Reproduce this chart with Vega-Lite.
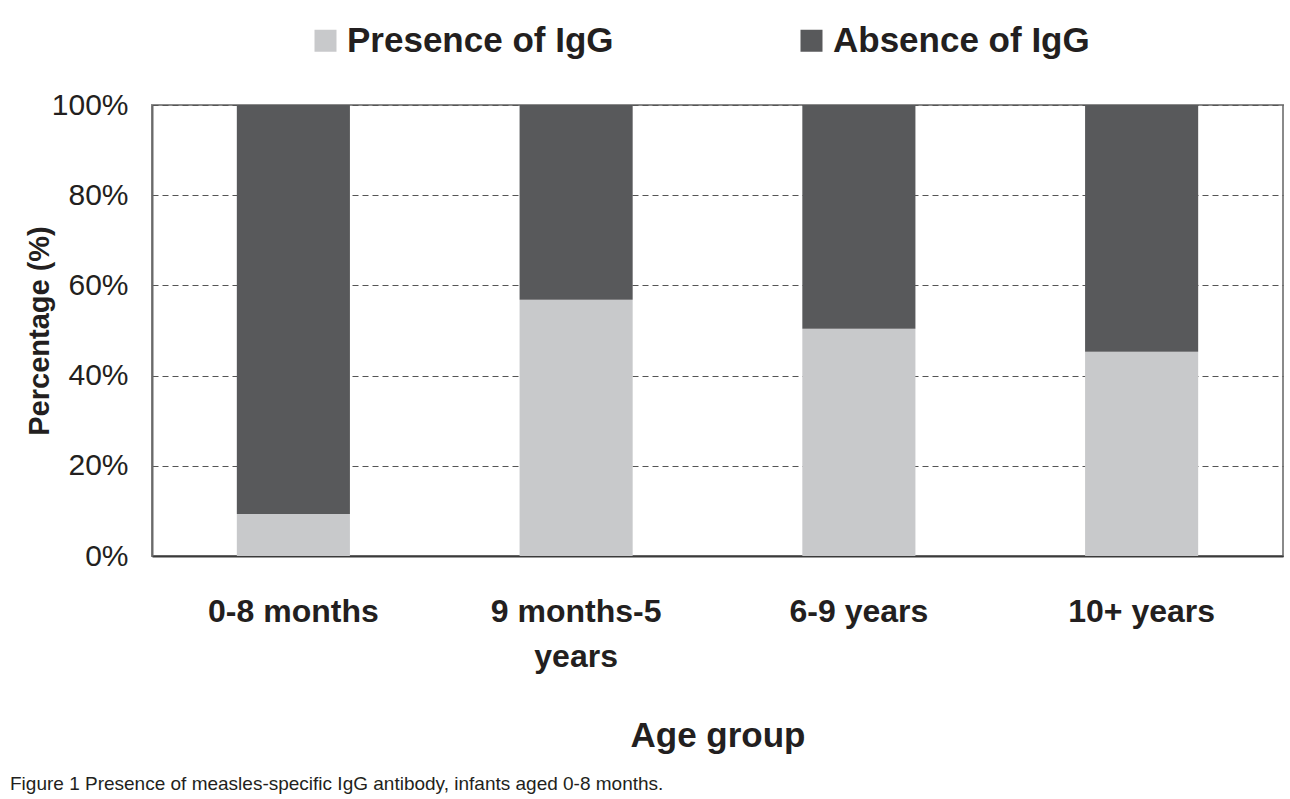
{
  "$schema": "https://vega.github.io/schema/vega-lite/v6.json",
  "autosize": {"type": "none"},
  "width": 1131,
  "height": 451,
  "padding": {"left": 152, "top": 105, "right": 7, "bottom": 243},
  "background": "white",
  "data": {
    "values": [
      {"age": "0-8 months", "group": "Presence of IgG", "pct": 9.3},
      {"age": "0-8 months", "group": "Absence of IgG", "pct": 90.7},
      {"age": "9 months-5 years", "group": "Presence of IgG", "pct": 56.8},
      {"age": "9 months-5 years", "group": "Absence of IgG", "pct": 43.2},
      {"age": "6-9 years", "group": "Presence of IgG", "pct": 50.4},
      {"age": "6-9 years", "group": "Absence of IgG", "pct": 49.6},
      {"age": "10+ years", "group": "Presence of IgG", "pct": 45.3},
      {"age": "10+ years", "group": "Absence of IgG", "pct": 54.7}
    ]
  },
  "title": {
    "text": "Figure 1 Presence of measles-specific IgG antibody, infants aged 0-8 months.",
    "orient": "bottom",
    "anchor": "start",
    "frame": "group",
    "dx": -142,
    "offset": 22,
    "font": "Liberation Sans",
    "fontSize": 19,
    "fontWeight": "normal",
    "color": "#231f20"
  },
  "mark": {"type": "bar"},
  "encoding": {
    "x": {
      "field": "age",
      "type": "nominal",
      "sort": ["0-8 months", "9 months-5 years", "6-9 years", "10+ years"],
      "scale": {"paddingInner": 0.6, "paddingOuter": 0.3},
      "axis": {
        "title": "Age group",
        "labelAngle": 0,
        "labelExpr": "datum.value == '9 months-5 years' ? ['9 months-5', 'years'] : datum.value",
        "labelLineHeight": 45,
        "labelFontSize": 32,
        "labelFontWeight": "bold",
        "labelPadding": 40,
        "labelColor": "#231f20",
        "ticks": false,
        "domainColor": "#3a3a3a",
        "domainWidth": 2,
        "titleFontSize": 35,
        "titleFontWeight": "bold",
        "titlePadding": 46,
        "titleColor": "#231f20"
      }
    },
    "y": {
      "field": "pct",
      "type": "quantitative",
      "stack": "zero",
      "scale": {"domain": [0, 100]},
      "axis": {
        "title": "Percentage (%)",
        "values": [0, 20, 40, 60, 80, 100],
        "labelExpr": "datum.value + '%'",
        "labelFontSize": 30,
        "labelPadding": 24,
        "labelColor": "#231f20",
        "ticks": false,
        "domainColor": "#6a6a6a",
        "domainWidth": 2,
        "grid": true,
        "gridColor": "#555555",
        "gridDash": [6, 4],
        "gridWidth": 1,
        "titleFontSize": 29,
        "titleFontWeight": "bold",
        "titlePadding": -3,
        "titleColor": "#231f20"
      }
    },
    "color": {
      "field": "group",
      "type": "nominal",
      "scale": {
        "domain": ["Presence of IgG", "Absence of IgG"],
        "range": ["#c8c9cb", "#58595b"]
      },
      "legend": {
        "title": null,
        "orient": "none",
        "direction": "horizontal",
        "legendX": 156,
        "legendY": -82,
        "symbolType": "square",
        "symbolSize": 484,
        "symbolStrokeWidth": 0,
        "labelFontSize": 35,
        "labelFontWeight": "bold",
        "labelColor": "#231f20",
        "labelOffset": 4,
        "labelLimit": 400,
        "columnPadding": 180
      }
    },
    "order": {"field": "group", "sort": "descending"}
  },
  "config": {
    "font": "Liberation Sans",
    "view": {"stroke": "#8a8a8a", "strokeWidth": 2},
    "axis": {"labelFont": "Liberation Sans", "titleFont": "Liberation Sans"},
    "legend": {"labelFont": "Liberation Sans"}
  }
}
